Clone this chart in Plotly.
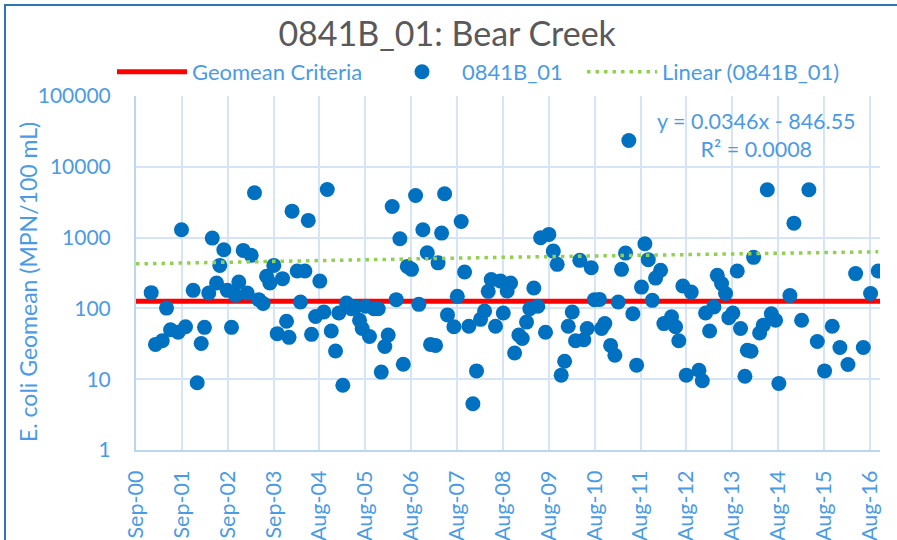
import numpy as np
import pandas as pd
import plotly.graph_objects as go

# ---- data (Excel serial dates and E. coli geomean values) ----
sample_serial = [
    36891, 36925, 36979, 37013, 37045, 37106, 37132, 37164, 37225, 37257,
    37289, 37315, 37349, 37377, 37411, 37437, 37469, 37496, 37530, 37562,
    37588, 37623, 37655, 37687, 37713, 37747, 37782, 37809, 37835, 37867,
    37894, 37936, 37968, 37988, 38012, 38053, 38079, 38114, 38141, 38167,
    38199, 38233, 38265, 38292, 38324, 38358, 38384, 38416, 38445, 38483,
    38517, 38549, 38570, 38597, 38628, 38663, 38698, 38722, 38750, 38777,
    38809, 38841, 38870, 38897, 38929, 38963, 38995, 39021, 39053, 39088,
    39114, 39154, 39174, 39202, 39226, 39249, 39300, 39327, 39358, 39385,
    39419, 39451, 39480, 39512, 39544, 39573, 39597, 39631, 39671, 39693,
    39724, 39751, 39783, 39817, 39844, 39878, 39904, 39936, 39968, 39990,
    40029, 40056, 40091, 40122, 40154, 40181, 40210, 40242, 40268, 40302,
    40334, 40361, 40393, 40419, 40459, 40475, 40501, 40547, 40581, 40608,
    40634, 40666, 40692, 40724, 40754, 40793, 40820, 40847, 40879, 40905,
    40945, 40971, 41032, 41064, 41090, 41122, 41149, 41189, 41250, 41277,
    41303, 41335, 41369, 41396, 41430, 41462, 41488, 41520, 41555, 41581,
    41616, 41635, 41665, 41685, 41733, 41762, 41794, 41826, 41860, 41886,
    41974, 42006, 42067, 42125, 42192, 42250, 42311, 42372, 42436, 42497,
    42558, 42616, 42677,
]
geomean = [
    167, 31, 35, 101, 50, 46, 1290, 55, 180, 8.9,
    32, 54, 165, 984, 228, 405, 675, 180, 54, 153,
    236, 660, 165, 561, 4300, 133, 117, 284, 228, 405,
    44, 263, 66, 39, 2365, 337, 123, 337, 1750, 43,
    77, 243, 89, 4785, 48, 25, 86, 8.2, 119, 99,
    105, 68, 52, 107, 40, 99, 99, 12.6, 29, 42,
    2755, 133, 965, 16.3, 392, 356, 3940, 114, 1290, 612,
    31, 30, 440, 1157, 4160, 81, 55, 148, 1692, 326,
    56, 4.5, 13.1, 70, 92, 174, 255, 56, 243, 86,
    176, 228, 23.5, 42, 37.5, 64, 99, 194, 107, 997,
    46, 1110, 645, 419, 11.4, 17.9, 56, 89, 35, 477,
    36, 52, 376, 133, 134, 52, 61, 30, 21.8, 123,
    356, 604, 23500, 84, 15.8, 200, 820, 488, 130, 268,
    345, 61, 76, 55, 35, 207, 11.4, 170, 13.4, 9.5,
    86, 48, 105, 293, 224, 162, 74, 86, 337, 52,
    11, 25.6, 24.8, 526, 45, 58, 4750, 84, 68, 8.7,
    152, 1600, 68, 4750, 34, 13.1, 56, 28, 16.1, 310,
    28, 162, 337,
]
tick_labels = ["Sep-00", "Sep-01", "Sep-02", "Sep-03", "Aug-04", "Aug-05", "Aug-06",
               "Aug-07", "Aug-08", "Aug-09", "Aug-10", "Aug-11", "Aug-12", "Aug-13",
               "Aug-14", "Aug-15", "Aug-16"]
y_tick_values = [1, 10, 100, 1000, 10000, 100000]
y_tick_labels = ["1", "10", "100", "1000", "10000", "100000"]
geomean_criteria = 126
trend_slope = 0.0346
trend_intercept = -846.55
axis_start_serial = 36770
axis_end_serial = 42691
tick_step_days = 365

BLUE_TXT = "#4a9be6"
FONT = "Lato"


def to_date(serial):
    return pd.to_datetime(np.asarray(serial, dtype=float), unit="D", origin="1899-12-30")


tick_serials = [axis_start_serial + k * tick_step_days for k in range(len(tick_labels))]

fig = go.Figure()

# criteria line
fig.add_trace(go.Scatter(
    x=to_date([axis_start_serial, axis_end_serial]),
    y=[geomean_criteria, geomean_criteria],
    mode="lines", name="Geomean Criteria",
    line=dict(color="#ff0000", width=5),
    legendwidth=185,
))

# data points
fig.add_trace(go.Scatter(
    x=to_date(sample_serial), y=geomean,
    mode="markers", name="0841B_01",
    marker=dict(color="#0070c0", size=15, line=dict(width=0)),
    legendwidth=115,
))

# linear trendline from the displayed equation
trend_x = np.linspace(axis_start_serial, max(sample_serial), 300)
trend_y = trend_slope * trend_x + trend_intercept
fig.add_trace(go.Scatter(
    x=to_date(trend_x), y=trend_y,
    mode="lines", name="Linear (0841B_01)",
    line=dict(color="#92d050", width=3.5, dash="3.5px,5px"),
    legendwidth=190,
))

W, H = 897, 540
L, R, T, B = 136, 17, 96, 90
pw, ph = W - L - R, H - T - B


def px_x(p):
    return (p - L) / pw


def px_y(p):
    return (H - B - p) / ph


fig.update_layout(
    width=W, height=H,
    margin=dict(l=L, r=R, t=T, b=B, pad=0, autoexpand=False),
    paper_bgcolor="white", plot_bgcolor="white",
    font=dict(family=FONT, color=BLUE_TXT, size=22),
    title=dict(text="0841B_01: Bear Creek", x=0.4985, xanchor="center",
               y=1 - 34.5 / H, yanchor="middle",
               font=dict(family=FONT, size=34, color="#595959")),
    showlegend=True,
    legend=dict(orientation="h", xref="container", yref="container",
                x=112 / W, xanchor="left",
                y=1 - 72 / H, yanchor="middle",
                font=dict(family=FONT, size=22, color=BLUE_TXT),
                itemwidth=70, bgcolor="rgba(0,0,0,0)", tracegroupgap=0),
    xaxis=dict(
        type="date", automargin=False,
        range=list(to_date([axis_start_serial, axis_end_serial])),
        tickmode="array", tickvals=list(to_date(tick_serials)), ticktext=tick_labels,
        tickangle=-90, ticks="", showgrid=True, gridcolor="#d5e5f7", gridwidth=1.5,
        showline=True, linecolor="#bcd6f2", linewidth=2,
        tickfont=dict(family=FONT, size=21.5, color=BLUE_TXT),
        ticklabelstandoff=10,
        zeroline=False,
    ),
    yaxis=dict(
        type="log", range=[0, 5], automargin=False,
        tickmode="array", tickvals=y_tick_values, ticktext=y_tick_labels,
        ticks="", showgrid=True, gridcolor="#d5e5f7", gridwidth=1.5,
        showline=True, linecolor="#bcd6f2", linewidth=2,
        tickfont=dict(family=FONT, size=21, color=BLUE_TXT),
        ticklabelstandoff=19,
        zeroline=False,
    ),
    annotations=[
        dict(text="y = 0.0346x - 846.55<br>R² = 0.0008", xref="paper", yref="paper",
             x=px_x(756), y=px_y(134.5), xanchor="center", yanchor="middle",
             showarrow=False, align="center",
             font=dict(family=FONT, size=21.5, color=BLUE_TXT)),
        dict(text="E. coli Geomean (MPN/100 mL)", xref="paper", yref="paper",
             x=px_x(28), y=px_y(282), xanchor="center", yanchor="middle",
             textangle=-90, showarrow=False,
             font=dict(family=FONT, size=23, color=BLUE_TXT)),
    ],
    shapes=[
        dict(type="rect", xref="paper", yref="paper",
             x0=px_x(5), x1=px_x(905), y0=px_y(548), y1=px_y(5),
             line=dict(color="#2e75b6", width=2), fillcolor="rgba(0,0,0,0)", layer="above"),
    ],
)

fig.write_html("out.html", config={"displayModeBar": False},
               post_script="document.body.style.margin='0px';")
